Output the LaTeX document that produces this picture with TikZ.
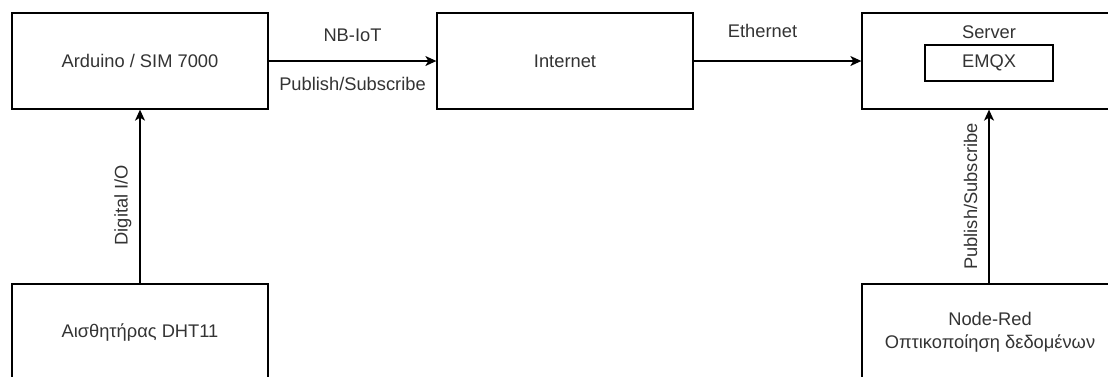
\documentclass[tikz,border=0pt]{standalone}
\usepackage{fontspec}
\setmainfont{Liberation Sans}
\usetikzlibrary{arrows.meta}

\definecolor{txtgray}{HTML}{333333}
\tikzstyle{block}=[draw, line width=1.3pt, minimum width=256pt, minimum height=96pt, inner sep=0,
  text=txtgray, font=\fontsize{18.3}{23}\selectfont, align=center]
\tikzstyle{inner}=[draw, line width=1.3pt, minimum width=128pt, minimum height=36pt, inner sep=0,
  text=txtgray, font=\fontsize{18.3}{23}\selectfont]
\tikzstyle{lbl}=[inner sep=0pt, text=txtgray, font=\fontsize{18.3}{23}\selectfont]
\tikzstyle{link}=[line width=1.3pt, -{Stealth[length=11pt, width=10pt, inset=3pt]}]

\begin{document}
\begin{tikzpicture}[x=1pt, y=-1pt]

\clip (0, 0) rectangle (1108, 376);

\node [block] (ard) at (140, 61) {Arduino / SIM 7000};
\node [block] (inet) at (565, 61) {Internet};
\node [block] (srv) at (990, 61) {};
\node [lbl] (srvlbl) at (989, 32) {Server};
\node [inner] (emqx) at (989, 63) {EMQX};
\node [block] (dht) at (140, 332) {Αισθητήρας DHT11};
\node [block] (nred) at (990, 332) {Node-Red\\Οπτικοποίηση δεδομένων};

\draw [link] (ard) to
        node [lbl, above, inner ysep=19pt] {NB-IoT}
        node [lbl, below, inner ysep=16pt] {Publish/Subscribe} (inet);
\draw [link] (inet) to
        node [lbl, above, inner ysep=23pt, xshift=-15pt] {Ethernet} (srv);
\draw [link] (dht) to
        node [lbl, pos=0.45, rotate=90, anchor=south, inner ysep=8pt] {Digital I/O} (ard);
\draw [link] (nred.north -| emqx) to
        node [lbl, rotate=90, anchor=south, inner ysep=11pt] {Publish/Subscribe} (srv.south -| emqx);

\end{tikzpicture}
\end{document}
